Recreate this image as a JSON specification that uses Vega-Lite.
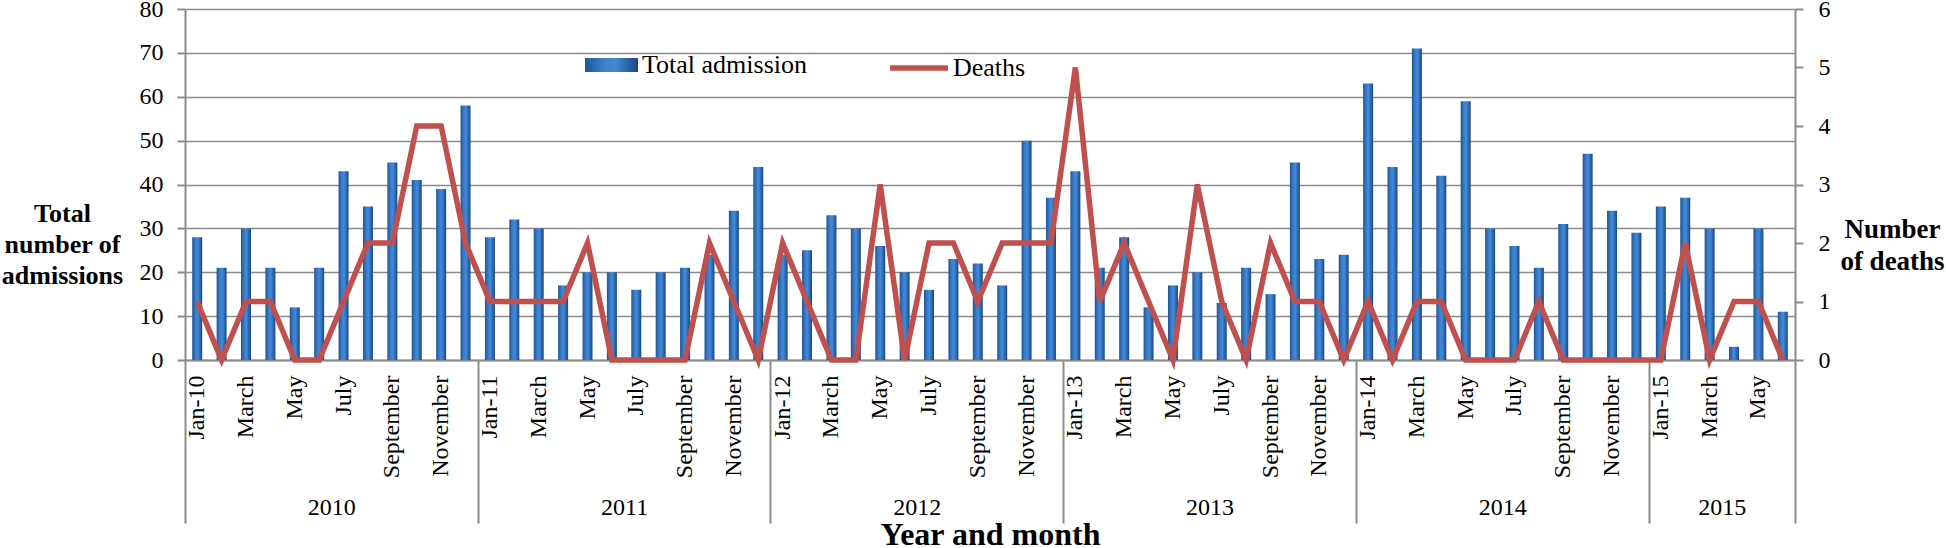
{
  "$schema": "https://vega.github.io/schema/vega-lite/v6.json",
  "width": 1610,
  "height": 351,
  "autosize": {"type": "none"},
  "padding": {"left": 185, "top": 9, "right": 151, "bottom": 188},
  "background": "white",
  "config": {
    "font": "Liberation Serif",
    "view": {"stroke": null},
    "axis": {"labelFont": "Liberation Serif", "titleFont": "Liberation Serif"},
    "legend": {"labelFont": "Liberation Serif", "titleFont": "Liberation Serif"}
  },
  "datasets": {
    "months": [
      {"ym": "2010-01", "adm": 28, "deaths": 1}, {"ym": "2010-02", "adm": 21, "deaths": 0},
      {"ym": "2010-03", "adm": 30, "deaths": 1}, {"ym": "2010-04", "adm": 21, "deaths": 1},
      {"ym": "2010-05", "adm": 12, "deaths": 0}, {"ym": "2010-06", "adm": 21, "deaths": 0},
      {"ym": "2010-07", "adm": 43, "deaths": 1}, {"ym": "2010-08", "adm": 35, "deaths": 2},
      {"ym": "2010-09", "adm": 45, "deaths": 2}, {"ym": "2010-10", "adm": 41, "deaths": 4},
      {"ym": "2010-11", "adm": 39, "deaths": 4}, {"ym": "2010-12", "adm": 58, "deaths": 2},
      {"ym": "2011-01", "adm": 28, "deaths": 1}, {"ym": "2011-02", "adm": 32, "deaths": 1},
      {"ym": "2011-03", "adm": 30, "deaths": 1}, {"ym": "2011-04", "adm": 17, "deaths": 1},
      {"ym": "2011-05", "adm": 20, "deaths": 2}, {"ym": "2011-06", "adm": 20, "deaths": 0},
      {"ym": "2011-07", "adm": 16, "deaths": 0}, {"ym": "2011-08", "adm": 20, "deaths": 0},
      {"ym": "2011-09", "adm": 21, "deaths": 0}, {"ym": "2011-10", "adm": 24, "deaths": 2},
      {"ym": "2011-11", "adm": 34, "deaths": 1}, {"ym": "2011-12", "adm": 44, "deaths": 0},
      {"ym": "2012-01", "adm": 24, "deaths": 2}, {"ym": "2012-02", "adm": 25, "deaths": 1},
      {"ym": "2012-03", "adm": 33, "deaths": 0}, {"ym": "2012-04", "adm": 30, "deaths": 0},
      {"ym": "2012-05", "adm": 26, "deaths": 3}, {"ym": "2012-06", "adm": 20, "deaths": 0},
      {"ym": "2012-07", "adm": 16, "deaths": 2}, {"ym": "2012-08", "adm": 23, "deaths": 2},
      {"ym": "2012-09", "adm": 22, "deaths": 1}, {"ym": "2012-10", "adm": 17, "deaths": 2},
      {"ym": "2012-11", "adm": 50, "deaths": 2}, {"ym": "2012-12", "adm": 37, "deaths": 2},
      {"ym": "2013-01", "adm": 43, "deaths": 5}, {"ym": "2013-02", "adm": 21, "deaths": 1},
      {"ym": "2013-03", "adm": 28, "deaths": 2}, {"ym": "2013-04", "adm": 12, "deaths": 1},
      {"ym": "2013-05", "adm": 17, "deaths": 0}, {"ym": "2013-06", "adm": 20, "deaths": 3},
      {"ym": "2013-07", "adm": 13, "deaths": 1}, {"ym": "2013-08", "adm": 21, "deaths": 0},
      {"ym": "2013-09", "adm": 15, "deaths": 2}, {"ym": "2013-10", "adm": 45, "deaths": 1},
      {"ym": "2013-11", "adm": 23, "deaths": 1}, {"ym": "2013-12", "adm": 24, "deaths": 0},
      {"ym": "2014-01", "adm": 63, "deaths": 1}, {"ym": "2014-02", "adm": 44, "deaths": 0},
      {"ym": "2014-03", "adm": 71, "deaths": 1}, {"ym": "2014-04", "adm": 42, "deaths": 1},
      {"ym": "2014-05", "adm": 59, "deaths": 0}, {"ym": "2014-06", "adm": 30, "deaths": 0},
      {"ym": "2014-07", "adm": 26, "deaths": 0}, {"ym": "2014-08", "adm": 21, "deaths": 1},
      {"ym": "2014-09", "adm": 31, "deaths": 0}, {"ym": "2014-10", "adm": 47, "deaths": 0},
      {"ym": "2014-11", "adm": 34, "deaths": 0}, {"ym": "2014-12", "adm": 29, "deaths": 0},
      {"ym": "2015-01", "adm": 35, "deaths": 0}, {"ym": "2015-02", "adm": 37, "deaths": 2},
      {"ym": "2015-03", "adm": 30, "deaths": 0}, {"ym": "2015-04", "adm": 3, "deaths": 1},
      {"ym": "2015-05", "adm": 30, "deaths": 1}, {"ym": "2015-06", "adm": 11, "deaths": 0}
    ],
    "years": [
      {"year": "2010", "start": 0, "mid": 6},
      {"year": "2011", "start": 12, "mid": 18},
      {"year": "2012", "start": 24, "mid": 30},
      {"year": "2013", "start": 36, "mid": 42},
      {"year": "2014", "start": 48, "mid": 54},
      {"year": "2015", "start": 60, "mid": 63},
      {"year": "", "start": 66, "mid": 66}
    ]
  },
  "resolve": {"scale": {"x": "independent", "y": "independent"}},
  "layer": [
    {
      "data": {"name": "months"},
      "mark": {"type": "bar", "fill": {"gradient": "linear", "x1": 0, "y1": 0, "x2": 1, "y2": 0, "stops": [{"offset": 0, "color": "#1f5596"}, {"offset": 0.35, "color": "#3b7fcc"}, {"offset": 0.55, "color": "#4589d6"}, {"offset": 0.8, "color": "#2b65ab"}, {"offset": 1, "color": "#1a4782"}]}},
      "encoding": {
        "x": {
          "field": "ym", "type": "nominal",
          "scale": {"type": "band", "paddingInner": 0.59, "paddingOuter": 0.295},
          "axis": {
            "orient": "bottom", "title": null, "labelAngle": -90, "labelAlign": "right",
            "labelBaseline": "middle", "labelPadding": 15, "ticks": false, "tickSize": 0,
            "labelFontSize": 24, "labelColor": "#000000", "labelOverlap": false,
            "labelBound": false, "labelFlush": false, "grid": false,
            "domainColor": "#8c8c8c", "domainWidth": 2,
            "labelExpr": "substring(datum.value,5,7)=='01' ? 'Jan-' + substring(datum.value,2,4) : substring(datum.value,5,7)=='03' ? 'March' : substring(datum.value,5,7)=='05' ? 'May' : substring(datum.value,5,7)=='07' ? 'July' : substring(datum.value,5,7)=='09' ? 'September' : substring(datum.value,5,7)=='11' ? 'November' : ''"
          }
        },
        "y": {
          "field": "adm", "type": "quantitative",
          "scale": {"domain": [0, 80], "nice": false},
          "axis": {
            "orient": "left", "values": [0, 10, 20, 30, 40, 50, 60, 70, 80],
            "title": ["Total", "number of", "admissions"], "titleAngle": 0,
            "titleAlign": "center", "titleBaseline": "middle", "titleX": -123, "titleY": 204,
            "titleFontSize": 26, "titleFontWeight": "bold", "titleColor": "#000000",
            "titleLineHeight": 31,
            "labelFontSize": 24, "labelColor": "#000000", "labelPadding": 14,
            "tickSize": 8, "tickColor": "#8c8c8c", "tickWidth": 2,
            "domainColor": "#8c8c8c", "domainWidth": 2,
            "grid": true, "gridColor": "#8c8c8c", "gridWidth": 1.6
          }
        },
        "opacity": {
          "datum": "Total admission", "type": "nominal",
          "scale": {"range": [1]},
          "legend": {
            "orient": "none", "legendX": 400, "legendY": 29.5, "title": null, "padding": 0,
            "symbolType": "M-1,-0.26H1V0.26H-1Z", "symbolSize": 2809, "symbolStrokeWidth": 0,
            "symbolFillColor": "#3276c2", "symbolOpacity": 1,
            "labelFontSize": 26, "labelColor": "#000000", "labelOffset": 4, "labelLimit": 0
          }
        }
      }
    },
    {
      "data": {"name": "months"},
      "mark": {"type": "line", "strokeWidth": 5.5},
      "encoding": {
        "x": {
          "field": "ym", "type": "nominal", "bandPosition": 0.5,
          "scale": {"type": "band", "paddingInner": 0.59, "paddingOuter": 0.295},
          "axis": null
        },
        "y": {
          "field": "deaths", "type": "quantitative",
          "scale": {"domain": [0, 6], "nice": false},
          "axis": {
            "orient": "right", "values": [0, 1, 2, 3, 4, 5, 6],
            "title": ["Number", "of deaths"], "titleAngle": 0,
            "titleAlign": "center", "titleBaseline": "middle", "titleX": 97, "titleY": 220,
            "titleFontSize": 27, "titleFontWeight": "bold", "titleColor": "#000000",
            "titleLineHeight": 32,
            "labelFontSize": 24, "labelColor": "#000000", "labelPadding": 15,
            "tickSize": 8, "tickColor": "#8c8c8c", "tickWidth": 2,
            "domainColor": "#8c8c8c", "domainWidth": 2, "grid": false
          }
        },
        "stroke": {
          "datum": "Deaths", "type": "nominal",
          "scale": {"range": ["#c0504d"]},
          "legend": {
            "orient": "none", "legendX": 702, "legendY": 27, "title": null, "padding": 0,
            "symbolType": "stroke", "symbolSize": 3364, "symbolStrokeWidth": 5.5,
            "labelFontSize": 26, "labelColor": "#000000", "labelOffset": 2, "labelLimit": 0
          }
        }
      }
    },
    {
      "data": {"name": "years"},
      "mark": {"type": "rule", "opacity": 0},
      "encoding": {
        "x": {
          "field": "start", "type": "quantitative",
          "scale": {"domain": [0, 66], "nice": false, "zero": false},
          "axis": {
            "orient": "bottom", "values": [0, 12, 24, 36, 48, 60, 66], "labels": false,
            "domain": false, "ticks": true, "tickSize": 163, "tickColor": "#8c8c8c",
            "tickWidth": 2, "grid": false, "title": null
          }
        }
      }
    },
    {
      "data": {"name": "years"},
      "mark": {"type": "text", "opacity": 0},
      "encoding": {
        "text": {"field": "year"},
        "x": {
          "field": "mid", "type": "quantitative",
          "scale": {"domain": [0, 66], "nice": false, "zero": false},
          "axis": {
            "orient": "bottom", "values": [6, 18, 30, 42, 54, 63],
            "labelExpr": "datum.value==6?'2010':datum.value==18?'2011':datum.value==30?'2012':datum.value==42?'2013':datum.value==54?'2014':'2015'",
            "labelFontSize": 24, "labelColor": "#000000", "labelPadding": 135,
            "labelAngle": 0, "labelBaseline": "top", "labelAlign": "center",
            "ticks": false, "tickSize": 0, "domain": false, "grid": false,
            "labelOverlap": false, "labelFlush": false,
            "title": "Year and month", "titleFontSize": 32, "titleFontWeight": "bold",
            "titleColor": "#000000", "titleY": 184, "titleBaseline": "alphabetic"
          }
        }
      }
    }
  ]
}
